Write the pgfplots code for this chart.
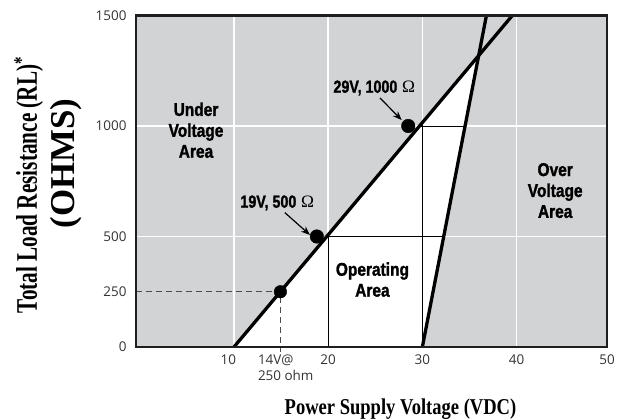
\documentclass[border=0pt]{standalone}
\usepackage{fontspec}
\setmainfont{Liberation Serif}
\newfontfamily\tickfont{Open Sans}
\newfontfamily\condfont[FakeBold=1.6]{Liberation Sans Bold}
\usepackage{pgfplots}
\pgfplotsset{compat=1.18}
\usetikzlibrary{arrows.meta}
\definecolor{bg}{RGB}{210,211,213}
\newcommand{\cond}[1]{\scalebox{0.84}[1]{#1}}
\begin{document}
\begin{tikzpicture}
\useasboundingbox (-136bp,-72bp) rectangle (487bp,347bp);
\begin{axis}[
  at={(0,0)}, anchor=south west,
  scale only axis, width=471bp, height=331.5bp,
  xmin=-0.4, xmax=49.6, ymin=0, ymax=1500,
  clip=false,
  axis background/.style={fill=bg},
  axis line style={line width=2.4bp, black!88},
  xtick={9.4,15.5,20,30,40,49.6},
  xticklabels={10,{14V@\\250 ohm},20,30,40,50},
  ytick={0,250,500,1000,1500},
  yticklabels={0,250,500,1000,1500},
  major tick length=0pt,
  tick label style={font=\tickfont\fontsize{13.5}{16}\selectfont, text=black!80},
  xticklabel style={align=left, anchor=north, yshift=-4.5bp},
  yticklabel style={anchor=east, xshift=-6bp},
  extra x ticks={10,20,30,40},
  extra x tick labels={},
  extra y ticks={500,1000},
  extra y tick labels={},
  extra tick style={grid=major},
  major grid style={white, line width=1.6bp},
]
% operating area
\addplot[fill=white, draw=none] coordinates {(10,0) (30,0) (35.98,1319) (10,0)};
% grid lines inside the operating area
\addplot[black, line width=0.9bp] coordinates {(20,0) (20,507.6)};
\addplot[black, line width=0.9bp] coordinates {(30,0) (30,1015)};
\addplot[black, line width=0.9bp] coordinates {(19.85,500) (32.27,500)};
\addplot[black, line width=0.9bp] coordinates {(29.70,1000) (34.53,1000)};
% dashed reference at 14 V / 250 ohm
\addplot[black!70, line width=1.2bp, dash pattern=on 6bp off 4bp] coordinates {(-0.4,250) (14.93,250) (14.93,-22)};
% limit lines
\addplot[black, line width=3.3bp] coordinates {(10,0) (39.55,1500)};
\addplot[black, line width=3.3bp] coordinates {(30,0) (36.8,1500)};
% points
\addplot[only marks, mark=*, mark size=6.8bp, black] coordinates {(18.8,500) (28.5,1000)};
\addplot[only marks, mark=*, mark size=6.3bp, black] coordinates {(14.93,250)};
% annotations
\draw[black, line width=1.2bp, -{Stealth[length=9bp,width=7bp]}] (axis cs:25.5,1127) -- (axis cs:27.8,1027);
\draw[black, line width=1.2bp, -{Stealth[length=9bp,width=7bp]}] (axis cs:15.4,608) -- (axis cs:18.07,507);
\node[font=\condfont\fontsize{17.5}{21}\selectfont] at (axis cs:24.9,1172) {\scalebox{0.82}[1]{29V, 1000}~{\rmfamily Ω}};
\node[font=\condfont\fontsize{17.5}{21}\selectfont] at (axis cs:14.6,652) {\scalebox{0.82}[1]{19V, 500}~{\rmfamily Ω}};
\node[font=\condfont\fontsize{18.5}{21}\selectfont] at (axis cs:5.97,970) {\cond{\begin{tabular}{@{}c@{}}Under\\Voltage\\Area\end{tabular}}};
\node[font=\condfont\fontsize{18.5}{21}\selectfont] at (axis cs:44.1,698) {\cond{\begin{tabular}{@{}c@{}}Over\\Voltage\\Area\end{tabular}}};
\node[font=\condfont\fontsize{18.5}{21}\selectfont] at (axis cs:24.7,294) {\cond{\begin{tabular}{@{}c@{}}Operating\\Area\end{tabular}}};
\draw[line width=2.4bp, black!88] (rel axis cs:0,0) rectangle (rel axis cs:1,1);
\end{axis}
\node[rotate=90, anchor=base, font=\bfseries\fontsize{30}{36}\selectfont] at (-99bp,162bp) {\scalebox{0.71}[1]{Total Load Resistance (RL)\textsuperscript{*}}};
\node[rotate=90, anchor=base, font=\bfseries\fontsize{35}{40}\selectfont] at (-61bp,183.5bp) {(OHMS)};
\node[anchor=base, font=\bfseries\fontsize{22.7}{26}\selectfont] at (264.5bp,-67bp) {\scalebox{0.82}[1]{Power Supply Voltage (VDC)}};
\end{tikzpicture}
\end{document}
